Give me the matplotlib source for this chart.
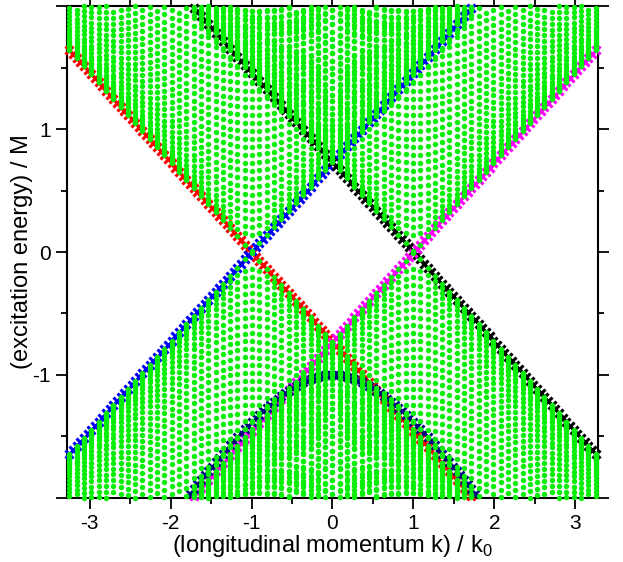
import numpy as np
import matplotlib
matplotlib.use("Agg")
import matplotlib.pyplot as plt
from matplotlib.ticker import MultipleLocator, FixedLocator

plt.rcParams['font.family'] = ['Liberation Sans', 'DejaVu Sans']

# ---- data ----
k_samples = np.linspace(-3.25, 3.25, 73)          # longitudinal momentum grid (k / k0)
k_marker_samples = np.linspace(-3.25, 3.25, 145)  # grid of the coloured cross markers
node_positions = [-1.0, 1.0]                       # node positions
cone_velocity = 0.73                               # slope of the surface-state lines
subband_gaps = [0.14, 0.205, 0.27, 0.335, 0.40, 0.465, 0.53, 0.595, 0.66, 0.725,
                0.79, 0.855, 0.92, 0.985, 1.05, 1.115, 1.18, 1.245, 1.31, 1.375,
                1.44, 1.505, 1.57, 1.635, 1.70, 1.765, 1.83, 1.895, 1.96]
u_band_gap = 1.0                                   # band edge at k = 0
u_band_velocity = 0.96
surface_nodes = [-1.0, -1.0, 1.0, 1.0]
surface_slopes = [-1, 1, -1, 1]
surface_colors = ['#ff0000', '#0000ff', '#000000', '#ff00ff']
x_ticks = [-3, -2, -1, 0, 1, 2, 3]
y_ticks = [-2, -1, 0, 1, 2]
y_tick_labels = ['', '-1', '0', '1', '']

ELIM = 2.0

fig = plt.figure(figsize=(6.23, 5.62), dpi=100)
ax = fig.add_axes([0.1075, 0.1139, 0.8524, 0.8754])

GREEN = '#08ee08'

def keep(kk, ee):
    kk = np.asarray(kk); ee = np.asarray(ee)
    m = np.abs(ee) <= ELIM + 1e-9
    return kk[m], ee[m]

# surface-state markers (under the green dots)
for node, sgn, col in zip(surface_nodes, surface_slopes, surface_colors):
    e = sgn * cone_velocity * (k_marker_samples - node)
    kk, ee = keep(k_marker_samples, e)
    ax.plot(kk, ee, ls='none', marker='x', ms=6.0, mew=2.2, color=col,
            clip_on=False, zorder=2)

# lower k=0 band highlighted in navy
e_um = np.sqrt(u_band_gap**2 + (u_band_velocity * k_marker_samples)**2)
kk, ee = keep(k_marker_samples, -e_um)
ax.plot(kk, ee, ls='none', marker='x', ms=5.5, mew=2.0, color='#000080',
        clip_on=False, zorder=2)

# all eigenvalues in green
e_u = np.sqrt(u_band_gap**2 + (u_band_velocity * k_samples)**2)
all_k, all_e = [], []
for node in node_positions:
    for q in subband_gaps:
        e = np.sqrt((cone_velocity * (k_samples - node))**2 + q**2)
        for s in (1, -1):
            kk, ee = keep(k_samples, s * e)
            all_k.append(kk); all_e.append(ee)
for node, sgn in zip(surface_nodes, surface_slopes):
    e = sgn * cone_velocity * (k_samples - node)
    kk, ee = keep(k_samples, e)
    all_k.append(kk); all_e.append(ee)
for s in (1, -1):
    kk, ee = keep(k_samples, s * e_u)
    all_k.append(kk); all_e.append(ee)
all_k = np.concatenate(all_k); all_e = np.concatenate(all_e)
ax.plot(all_k, all_e, ls='none', marker='o', ms=3.9, mew=0, color=GREEN,
        clip_on=False, zorder=3)

ax.set_xlim(-3.28, 3.28)
ax.set_ylim(-ELIM, ELIM)
ax.xaxis.set_major_locator(FixedLocator(x_ticks))
ax.xaxis.set_minor_locator(MultipleLocator(0.5))
ax.yaxis.set_major_locator(FixedLocator(y_ticks))
ax.set_yticklabels(y_tick_labels)
ax.set_xticklabels([str(t) for t in x_ticks])
ax.yaxis.set_minor_locator(MultipleLocator(0.5))
ax.tick_params(which='both', direction='out', top=True, right=True,
               labelsize=15, width=1.3)
ax.tick_params(which='major', length=8)
ax.tick_params(which='minor', length=4)
for sp in ax.spines.values():
    sp.set_linewidth(1.5)
    sp.set_zorder(1)

ax.set_xlabel(r'(longitudinal momentum k) / k$_\mathregular{0}$', fontsize=17, labelpad=0)
ax.set_ylabel('(excitation energy) / M', fontsize=17, labelpad=0)

fig.savefig('out.png', dpi=100)
